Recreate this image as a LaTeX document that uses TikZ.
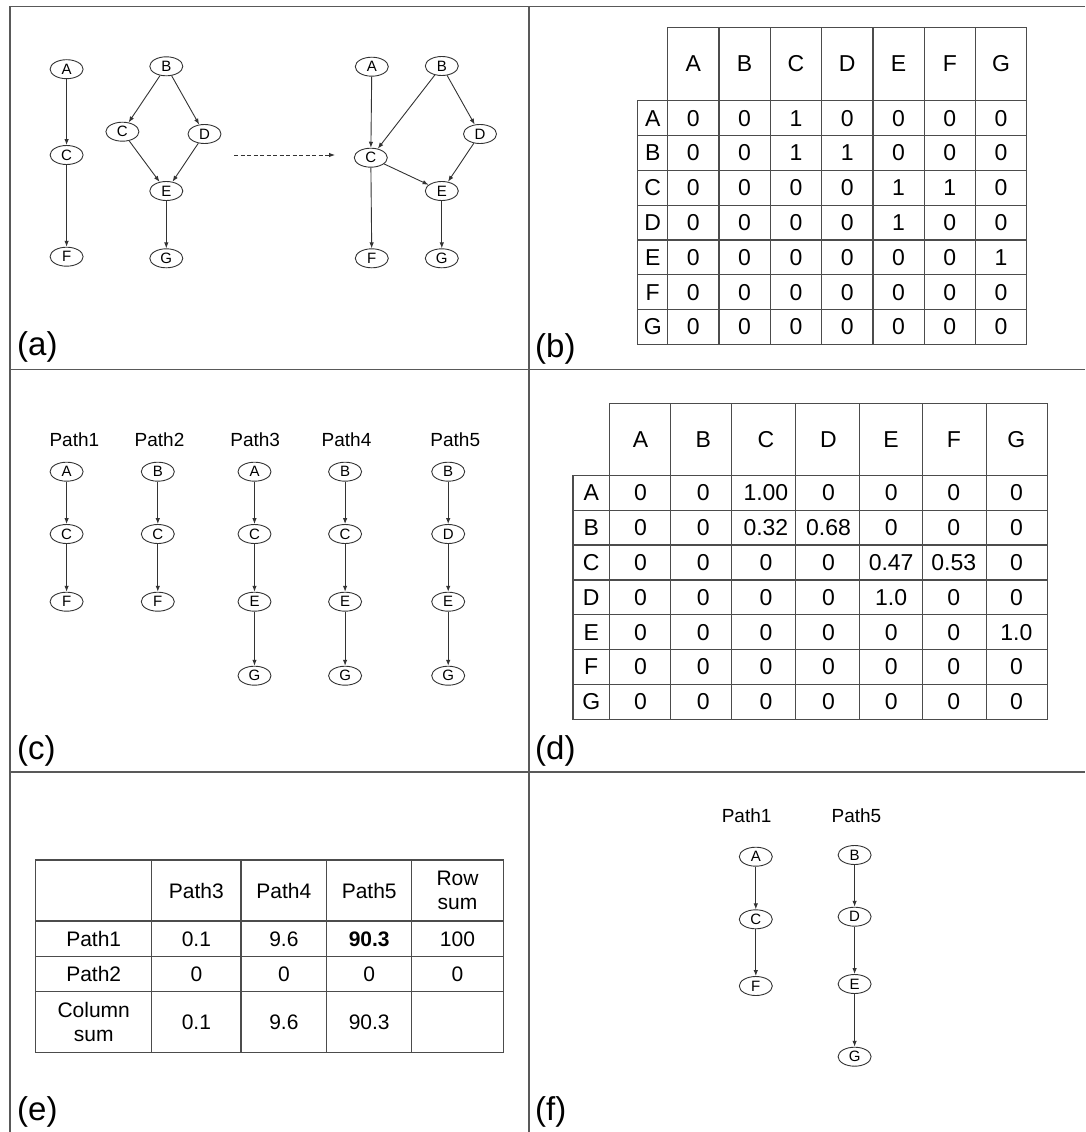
\documentclass[tikz,border=0pt]{standalone}
\usepackage{fontspec}
\setmainfont{Liberation Sans}
\usetikzlibrary{shapes.geometric,arrows.meta}

\tikzset{
  vert/.style={ellipse, draw=black!80, line width=0.9pt, minimum width=33pt, minimum height=19pt, inner sep=0pt, font=\fontsize{15}{15}\selectfont},
  edge/.style={draw=black!80, line width=0.9pt, -{Latex[length=6pt,width=4.5pt]}},
  frameline/.style={draw=black!65, line width=1.3pt},
  gridline/.style={draw=black!70, line width=1.2pt},
  cell/.style={inner sep=0pt, font=\fontsize{23}{27}\selectfont},
  pcell/.style={inner sep=0pt, align=center, font=\fontsize{21}{24}\selectfont},
  pathlabel/.style={inner sep=0pt, font=\fontsize{19}{19}\selectfont},
  panel/.style={anchor=base west, inner sep=0pt, font=\fontsize{33}{33}\selectfont},
}

\begin{document}
\begin{tikzpicture}[x=1pt,y=-1pt]
\useasboundingbox (0,0) rectangle (1085,1132);

% frame
\draw[frameline] (1085,6.7) -- (10,6.7) -- (10,1132);
\draw[frameline] (529,6.7) -- (529,1132);
\draw[frameline] (10,369.3) -- (1085,369.3);
\draw[frameline] (10,772) -- (1085,772);

% (a) two graphs
\node[vert] (la) at (66.6,69.2) {A};
\node[vert] (lc1) at (66.6,155) {C};
\node[vert] (lf) at (66.6,256.7) {F};
\node[vert] (lb) at (166.3,66.3) {B};
\node[vert] (lc2) at (122.4,131.7) {C};
\node[vert] (ld) at (204.5,134) {D};
\node[vert] (le) at (166.3,191) {E};
\node[vert] (lg) at (166.3,258.3) {G};
\draw[edge] (la) -- (lc1);
\draw[edge] (lc1) -- (lf);
\draw[edge] (lb) -- (lc2);
\draw[edge] (lb) -- (ld);
\draw[edge] (lc2) -- (le);
\draw[edge] (ld) -- (le);
\draw[edge] (le) -- (lg);

\coordinate (mergefrom) at (234,155);
\coordinate (mergeto) at (335,155);
\draw[edge, dash pattern=on 4pt off 2.5pt] (mergefrom) -- (mergeto);

\node[vert] (ra) at (371.8,66.7) {A};
\node[vert] (rb) at (441.8,66) {B};
\node[vert] (rd) at (480,134) {D};
\node[vert] (rc) at (370.8,157.7) {C};
\node[vert] (re) at (441.8,191) {E};
\node[vert] (rf) at (371.8,258.3) {F};
\node[vert] (rg) at (441.8,258.3) {G};
\draw[edge] (ra) -- (rc);
\draw[edge] (rb) -- (rc);
\draw[edge] (rb) -- (rd);
\draw[edge] (rd) -- (re);
\draw[edge] (rc) -- (re);
\draw[edge] (rc) -- (rf);
\draw[edge] (re) -- (rg);

\node[panel] (la-lab) at (17,355) {(a)};

% (b) adjacency matrix
\draw[gridline] (667.7,27.3) rectangle (1026.7,344.3);
\draw[gridline] (637.7,100.7) rectangle (667.7,344.3);
\foreach \x in {719,770.3,821.6,872.9,924.2,975.4}
  \draw[gridline] (\x,27.3) -- (\x,344.3);
\foreach \y in {100.7,135.5,170.3,205.1,239.9,274.7,309.5}
  \draw[gridline] (637.7,\y) -- (1026.7,\y);
\foreach \h [count=\c] in {A,B,C,D,E,F,G}
  \node[cell] (bh\c) at (667.7+51.29*\c-25.65,64) {\h};
\foreach \lab/\vals [count=\r] in {A/{0,0,1,0,0,0,0},B/{0,0,1,1,0,0,0},C/{0,0,0,0,1,1,0},D/{0,0,0,0,1,0,0},E/{0,0,0,0,0,0,1},F/{0,0,0,0,0,0,0},G/{0,0,0,0,0,0,0}}{
  \node[cell] (b\r-0) at (652.7,100.7+34.8*\r-17.4) {\lab};
  \foreach \v [count=\c] in \vals
    \node[cell] (b\r-\c) at (667.7+51.29*\c-25.65,100.7+34.8*\r-17.4) {\v};
}
\node[panel] (lb-lab) at (535,357) {(b)};

% (c) paths
\node[pathlabel] (p1) at (74.4,440) {Path1};
\node[pathlabel] (p2) at (159.5,440) {Path2};
\node[pathlabel] (p3) at (255.2,440) {Path3};
\node[pathlabel] (p4) at (346.5,440) {Path4};
\node[pathlabel] (p5) at (455.3,440) {Path5};

\node[vert] (c1a) at (66.6,471.7) {A};
\node[vert] (c1c) at (66.6,534) {C};
\node[vert] (c1f) at (66.6,601.7) {F};
\node[vert] (c2b) at (157.8,471.7) {B};
\node[vert] (c2c) at (157.8,534) {C};
\node[vert] (c2f) at (157.8,601.7) {F};
\node[vert] (c3a) at (254.5,471.7) {A};
\node[vert] (c3c) at (254.5,534) {C};
\node[vert] (c3e) at (254.5,601.7) {E};
\node[vert] (c3g) at (254.5,675.7) {G};
\node[vert] (c4b) at (345.1,471.7) {B};
\node[vert] (c4c) at (345.1,534) {C};
\node[vert] (c4e) at (345.1,601.7) {E};
\node[vert] (c4g) at (345.1,675.7) {G};
\node[vert] (c5b) at (448.2,471.7) {B};
\node[vert] (c5d) at (448.2,534) {D};
\node[vert] (c5e) at (448.2,601.7) {E};
\node[vert] (c5g) at (448.2,675.7) {G};
\draw[edge] (c1a) -- (c1c);
\draw[edge] (c1c) -- (c1f);
\draw[edge] (c2b) -- (c2c);
\draw[edge] (c2c) -- (c2f);
\draw[edge] (c3a) -- (c3c);
\draw[edge] (c3c) -- (c3e);
\draw[edge] (c3e) -- (c3g);
\draw[edge] (c4b) -- (c4c);
\draw[edge] (c4c) -- (c4e);
\draw[edge] (c4e) -- (c4g);
\draw[edge] (c5b) -- (c5d);
\draw[edge] (c5d) -- (c5e);
\draw[edge] (c5e) -- (c5g);

\node[panel] (lc-lab) at (17,759) {(c)};

% (d) transition probabilities
\draw[gridline] (609.3,403.3) rectangle (1047.7,719.3);
\draw[gridline] (573,475.3) rectangle (609.3,719.3);
\foreach \x in {670.3,731.3,795.3,859.3,922.7,986.7}
  \draw[gridline] (\x,403.3) -- (\x,719.3);
\foreach \y in {475.3,510.2,545,579.9,614.7,649.6,684.4}
  \draw[gridline] (573,\y) -- (1047.7,\y);
\foreach \h [count=\c] in {A,B,C,D,E,F,G}
  \node[cell] (dh\c) at (609.3+62.63*\c-31.3,439.3) {\h};
\foreach \lab/\vals [count=\r] in {A/{0,0,1.00,0,0,0,0},B/{0,0,0.32,0.68,0,0,0},C/{0,0,0,0,0.47,0.53,0},D/{0,0,0,0,1.0,0,0},E/{0,0,0,0,0,0,1.0},F/{0,0,0,0,0,0,0},G/{0,0,0,0,0,0,0}}{
  \node[cell] (d\r-0) at (591.2,475.3+34.86*\r-17.43) {\lab};
  \foreach \v [count=\c] in \vals
    \node[cell] (d\r-\c) at (609.3+62.63*\c-31.3,475.3+34.86*\r-17.43) {\v};
}
\node[panel] (ld-lab) at (535,759) {(d)};

% (e) path counts
\draw[gridline] (35.7,860) rectangle (503.3,1052.3);
\foreach \x in {151.7,241,326.7,411.7}
  \draw[gridline] (\x,860) -- (\x,1052.3);
\foreach \y in {921,956.7,991.7}
  \draw[gridline] (35.7,\y) -- (503.3,\y);
\node[pcell] (eh3) at (196.4,890.5) {Path3};
\node[pcell] (eh4) at (283.9,890.5) {Path4};
\node[pcell] (eh5) at (369.2,890.5) {Path5};
\node[pcell] (ehs) at (457.5,890.5) {Row\\sum};
\node[pcell] (er1) at (93.7,938.9) {Path1};
\node[pcell] (e13) at (196.4,938.9) {0.1};
\node[pcell] (e14) at (283.9,938.9) {9.6};
\node[pcell] (e15) at (369.2,938.9) {\textbf{90.3}};
\node[pcell] (e1s) at (457.5,938.9) {100};
\node[pcell] (er2) at (93.7,974.2) {Path2};
\node[pcell] (e23) at (196.4,974.2) {0};
\node[pcell] (e24) at (283.9,974.2) {0};
\node[pcell] (e25) at (369.2,974.2) {0};
\node[pcell] (e2s) at (457.5,974.2) {0};
\node[pcell] (ecs) at (93.7,1022) {Column\\sum};
\node[pcell] (es3) at (196.4,1022) {0.1};
\node[pcell] (es4) at (283.9,1022) {9.6};
\node[pcell] (es5) at (369.2,1022) {90.3};

\node[panel] (le-lab) at (17,1120) {(e)};

% (f) chosen paths
\node[pathlabel] (f1) at (746.6,816) {Path1};
\node[pathlabel] (f5) at (856.4,816) {Path5};
\node[vert] (fa) at (755.8,856.7) {A};
\node[vert] (fc) at (755.8,919.3) {C};
\node[vert] (ff) at (755.8,986) {F};
\node[vert] (fb) at (854.6,855) {B};
\node[vert] (fd) at (854.6,916.7) {D};
\node[vert] (fe) at (854.6,984) {E};
\node[vert] (fg) at (854.6,1056.7) {G};
\draw[edge] (fa) -- (fc);
\draw[edge] (fc) -- (ff);
\draw[edge] (fb) -- (fd);
\draw[edge] (fd) -- (fe);
\draw[edge] (fe) -- (fg);

\node[panel] (lf-lab) at (535,1120) {(f)};
\end{tikzpicture}
\end{document}
